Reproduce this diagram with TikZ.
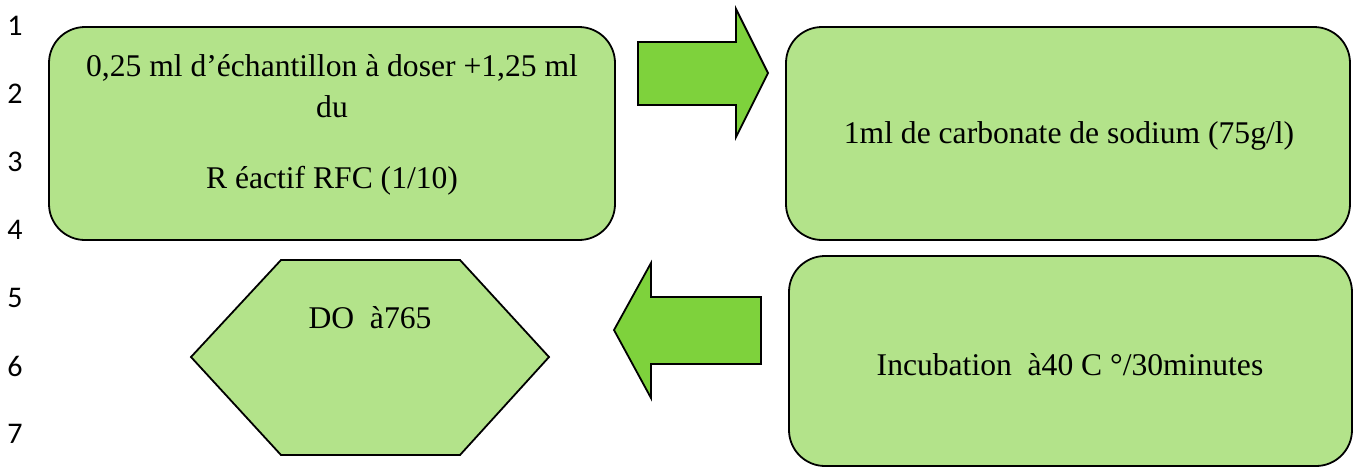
\documentclass[tikz,border=0pt]{standalone}
\usepackage{fontspec}
\setmainfont{Liberation Serif}
\newfontfamily\numfont{Carlito}
\usetikzlibrary{positioning}
\definecolor{stepgreen}{RGB}{179, 227, 138}
\definecolor{arrowgreen}{RGB}{126, 210, 60}

\begin{document}
\begin{tikzpicture}[x=0.5pt, y=-0.5pt,
  stepbox/.style={draw, line width=0.9pt, fill=stepgreen, rounded corners=18pt},
  steptext/.style={anchor=base, inner sep=0pt, font=\fontsize{15.8}{18}\selectfont}]
\useasboundingbox (0,0) rectangle (1362,468);

% Line numbers
\foreach \i in {1,...,7}
  \node[font=\numfont\fontsize{15}{17}\selectfont] (num\i) at (15,{26+68*(\i-1)}) {\i};

% Step 1: sample + reagent
\node[stepbox, minimum width=283pt, minimum height=106.5pt] (sample) at (332,133.5) {};
\node[steptext] (sampleA) at (332,76) {0,25 ml d’échantillon à doser +1,25 ml};
\node[steptext] (sampleB) at (332,117) {du};
\node[steptext] (sampleC) at (332,188) {R éactif RFC (1/10)};

% Step 2: carbonate
\node[stepbox, minimum width=282pt, minimum height=106.5pt] (carbonate) at (1068,133.5) {};
\node[steptext] (carbonateA) at (1069,143) {1ml de carbonate de sodium (75g/l)};

% Step 3: incubation
\node[stepbox, minimum width=281.5pt, minimum height=105pt] (incub) at (1070.5,361) {};
\node[steptext] (incubA) at (1070,375) {Incubation\ \ à40 C °/30minutes};

% Step 4: reading
\filldraw[line width=0.9pt, fill=stepgreen] (191,357) -- (281,260) -- (460,260)
  -- (549,357) -- (460,455) -- (281,455) -- cycle;
\node[steptext] (reading) at (370,328) {DO\ \ à765};

% Block arrows
\filldraw[line width=0.9pt, fill=arrowgreen] (638,42) -- (736,42) -- (736,9)
  -- (768,73) -- (736,137) -- (736,105) -- (638,105) -- cycle;
\filldraw[line width=0.9pt, fill=arrowgreen] (761,297) -- (651,297) -- (651,263)
  -- (614,330) -- (651,398) -- (651,364) -- (761,364) -- cycle;
\end{tikzpicture}
\end{document}
